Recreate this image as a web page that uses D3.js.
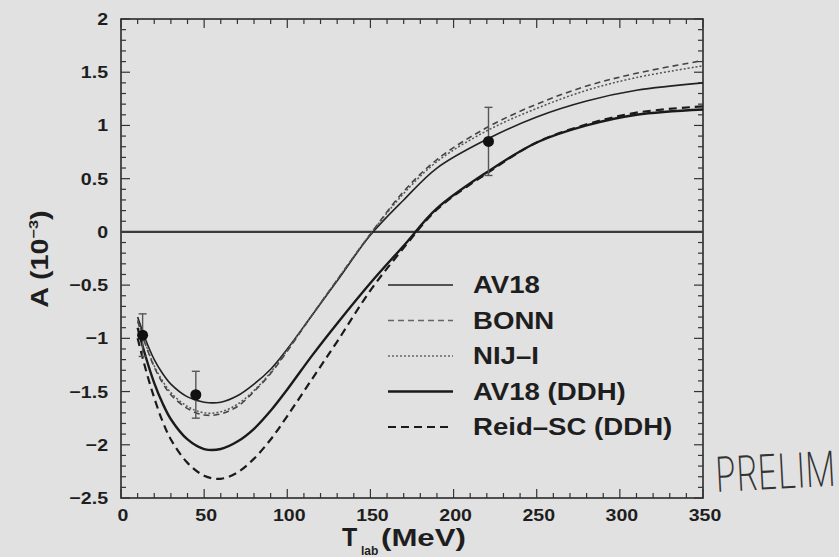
<!DOCTYPE html>
<html>
<head>
<meta charset="utf-8">
<script src="https://cdn.jsdelivr.net/npm/d3@7"></script>
<style>
  html, body { margin: 0; padding: 0; background: #e1e1e1; }
  svg { display: block; }
  .tick-lbl { font-family: "Liberation Sans", Arial, sans-serif; font-weight: bold; font-size: 17px; fill: #1e1e1e; }
  .leg-lbl { font-family: "Liberation Sans", Arial, sans-serif; font-weight: bold; font-size: 23px; fill: #1e1e1e; }
  .title { font-family: "Liberation Sans", Arial, sans-serif; font-weight: bold; fill: #1e1e1e; }
</style>
</head>
<body>
<div class="chart"></div>
<script>
var energies = [10, 15, 20, 25, 30, 40, 50, 60, 70, 80, 90, 100, 115, 130, 150, 170, 190, 220, 250, 280, 310, 350];

var av18     = [-0.80, -1.02, -1.20, -1.33, -1.43, -1.55, -1.60, -1.60, -1.54, -1.43, -1.29, -1.10, -0.78, -0.46, -0.03, 0.30, 0.60, 0.87, 1.08, 1.23, 1.33, 1.40];
var bonn     = [-0.84, -1.07, -1.27, -1.42, -1.53, -1.66, -1.72, -1.71, -1.64, -1.50, -1.33, -1.12, -0.78, -0.45, -0.02, 0.38, 0.68, 0.98, 1.20, 1.37, 1.49, 1.61];
var nij1     = [-0.83, -1.06, -1.26, -1.40, -1.51, -1.64, -1.70, -1.69, -1.62, -1.49, -1.32, -1.11, -0.78, -0.45, -0.02, 0.36, 0.66, 0.95, 1.16, 1.33, 1.45, 1.56];
var av18ddh  = [-0.90, -1.18, -1.42, -1.61, -1.76, -1.95, -2.04, -2.04, -1.97, -1.85, -1.68, -1.48, -1.16, -0.86, -0.48, -0.13, 0.22, 0.56, 0.84, 1.00, 1.10, 1.15];
var reidddh  = [-1.00, -1.30, -1.56, -1.78, -1.95, -2.17, -2.29, -2.32, -2.26, -2.13, -1.95, -1.73, -1.38, -1.03, -0.55, -0.15, 0.21, 0.55, 0.84, 1.01, 1.12, 1.18];

// measured points
var expT   = [13, 45, 221];
var expA   = [-0.97, -1.53, 0.85];
var expErr = [0.20, 0.22, 0.32];

var xTicks = [0, 50, 100, 150, 200, 250, 300, 350];
var yTicks = [2, 1.5, 1, 0.5, 0, -0.5, -1, -1.5, -2, -2.5];
var legendNames = ["AV18", "BONN", "NIJ\u2013I", "AV18 (DDH)", "Reid\u2013SC (DDH)"];

var W = 839, H = 557;
var margin = {top: 19, right: 136, bottom: 59, left: 121};
var width = W - margin.left - margin.right,
    height = H - margin.top - margin.bottom;

var svg = d3.select(".chart").append("svg")
    .attr("width", W)
    .attr("height", H);

var g = svg.append("g")
    .attr("transform", "translate(" + margin.left + "," + margin.top + ")");

var x = d3.scaleLinear().domain([0, 350]).range([0, width]);
var y = d3.scaleLinear().domain([-2.5, 2]).range([height, 0]);

//frame
g.append("rect")
  .attr("width", width).attr("height", height)
  .attr("fill", "none").attr("stroke", "#2a2a2a").attr("stroke-width", 1.6);

//ticks on all four sides, pointing in
var xMinor = d3.range(0, 351, 10), yMinor = d3.range(-25, 21, 1).map(function(d){ return d/10; });
function isMajorX(v){ return v % 50 === 0; }
function isMajorY(v){ return Math.abs(v*2 - Math.round(v*2)) < 1e-6; }

xMinor.forEach(function(v){
  var len = isMajorX(v) ? 9 : 5;
  g.append("line").attr("x1", x(v)).attr("x2", x(v)).attr("y1", height).attr("y2", height-len)
    .attr("stroke", "#333").attr("stroke-width", 1.2);
  g.append("line").attr("x1", x(v)).attr("x2", x(v)).attr("y1", 0).attr("y2", len)
    .attr("stroke", "#333").attr("stroke-width", 1.2);
});
yMinor.forEach(function(v){
  var len = isMajorY(v) ? 9 : 5;
  g.append("line").attr("y1", y(v)).attr("y2", y(v)).attr("x1", 0).attr("x2", len)
    .attr("stroke", "#333").attr("stroke-width", 1.2);
  g.append("line").attr("y1", y(v)).attr("y2", y(v)).attr("x1", width).attr("x2", width-len)
    .attr("stroke", "#333").attr("stroke-width", 1.2);
});

//tick labels (the original font is wide, so stretch it a bit)
g.selectAll(".xlbl").data(xTicks).enter().append("text")
  .attr("class", "tick-lbl")
  .attr("text-anchor", "middle")
  .attr("transform", function(d){ return "translate(" + (x(d)+2) + "," + (height+23) + ") scale(1.15,1)"; })
  .text(function(d){ return d; });

g.selectAll(".ylbl").data(yTicks).enter().append("text")
  .attr("class", "tick-lbl")
  .attr("text-anchor", "end")
  .attr("transform", function(d){ return "translate(-13," + (y(d)+6) + ") scale(1.15,1)"; })
  .text(function(d){ return d < 0 ? "\u2212" + (-d) : d; });

//zero line
g.append("line")
  .attr("x1", 0).attr("x2", width).attr("y1", y(0)).attr("y2", y(0))
  .attr("stroke", "#3a3a3a").attr("stroke-width", 2.2);

//curves
var styles = [
  {vals: av18,    stroke: "#222", w: 1.6, dash: null},
  {vals: bonn,    stroke: "#444", w: 1.6, dash: "6,4"},
  {vals: nij1,    stroke: "#555", w: 1.5, dash: "2,2"},
  {vals: av18ddh, stroke: "#1a1a1a", w: 2.4, dash: null},
  {vals: reidddh, stroke: "#1a1a1a", w: 2.2, dash: "8,5"}
];

var line = d3.line()
  .x(function(d){ return x(d[0]); })
  .y(function(d){ return y(d[1]); })
  .curve(d3.curveCatmullRom.alpha(0.5));

styles.forEach(function(s){
  var pts = energies.map(function(t, i){ return [t, s.vals[i]]; });
  g.append("path")
    .datum(pts)
    .attr("d", line)
    .attr("fill", "none")
    .attr("stroke", s.stroke)
    .attr("stroke-width", s.w)
    .attr("stroke-dasharray", s.dash);
});

//data points with error bars
expT.forEach(function(t, i){
  var cx = x(t), top = y(expA[i] + expErr[i]), bot = y(expA[i] - expErr[i]);
  g.append("line").attr("x1", cx).attr("x2", cx).attr("y1", top).attr("y2", bot)
    .attr("stroke", "#555").attr("stroke-width", 1.4);
  [top, bot].forEach(function(yy){
    g.append("line").attr("x1", cx-4).attr("x2", cx+4).attr("y1", yy).attr("y2", yy)
      .attr("stroke", "#555").attr("stroke-width", 1.4);
  });
  g.append("circle").attr("cx", cx).attr("cy", y(expA[i])).attr("r", 5.5).attr("fill", "#111");
});

//legend
var legend = g.append("g").attr("transform", "translate(267,266)");
legendNames.forEach(function(name, i){
  var s = styles[i], ly = i * 35.5;
  legend.append("line")
    .attr("x1", 0).attr("x2", 65).attr("y1", ly).attr("y2", ly)
    .attr("stroke", i === 1 || i === 2 ? "#666" : s.stroke)
    .attr("stroke-width", s.w)
    .attr("stroke-dasharray", s.dash);
  legend.append("text")
    .attr("class", "leg-lbl")
    .attr("transform", "translate(85," + (ly+8) + ") scale(1.2,1)")
    .text(name);
});

//axis titles
var yt = svg.append("text")
  .attr("class", "title")
  .attr("text-anchor", "middle")
  .style("font-size", "23px")
  .attr("transform", "translate(48,259) rotate(-90) scale(1.25,1)");
yt.append("tspan").text("A (10");
yt.append("tspan").attr("dy", -10).style("font-size", "13px").text("\u22123");
yt.append("tspan").attr("dy", 10).text(")");

svg.append("text")
  .attr("class", "title")
  .attr("transform", "translate(342,546)")
  .style("font-size", "25px")
  .text("T");
svg.append("text")
  .attr("class", "title")
  .attr("transform", "translate(361,555)")
  .style("font-size", "12px")
  .text("lab");
svg.append("text")
  .attr("class", "title")
  .attr("transform", "translate(381,546) scale(1.3,1)")
  .style("font-size", "24px")
  .text("(MeV)");

//handwritten note
svg.append("text")
  .attr("transform", "translate(716,492) rotate(-3) scale(0.74,1.05)")
  .style("font-family", "Inter, sans-serif")
  .style("font-weight", 200)
  .style("font-size", "46px")
  .style("fill", "#333")
  .text("PRELIM");
</script>
</body>
</html>
